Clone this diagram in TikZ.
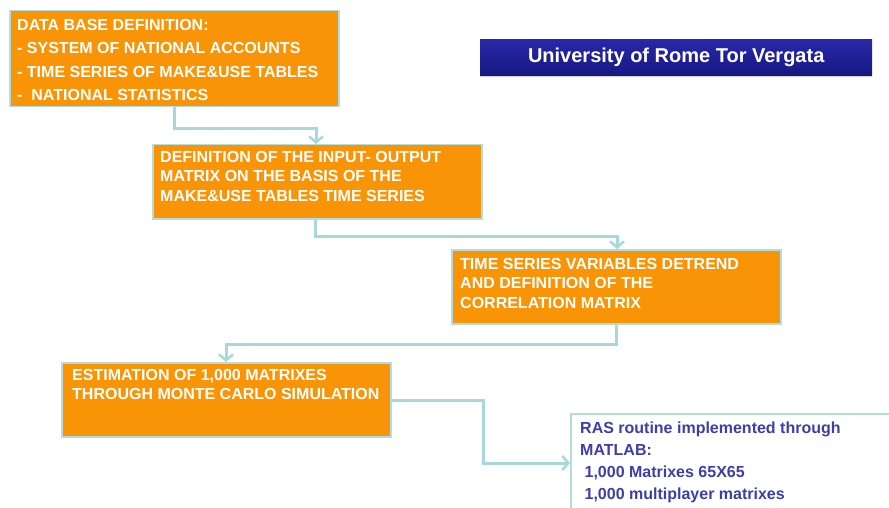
\documentclass[tikz,border=0pt]{standalone}
\usepackage{fontspec}
\setmainfont{Liberation Sans}
\usetikzlibrary{arrows.meta,calc,shadows}
\definecolor{boxorange}{RGB}{248,148,6}
\definecolor{boxedge}{RGB}{178,222,226}
\definecolor{conncol}{RGB}{168,216,220}
\definecolor{rasblue}{RGB}{62,62,168}
\definecolor{titletop}{RGB}{40,40,170}
\definecolor{titlebot}{RGB}{24,24,130}
\tikzset{
  obox/.style={draw=boxedge, line width=1.5pt, fill=boxorange, rectangle, inner sep=0pt, anchor=north west},
  wbox/.style={draw=boxedge, line width=1.5pt, fill=white, rectangle, inner sep=0pt, anchor=north west},
  otext/.style={text=white, font=\bfseries\fontsize{16pt}{19.5pt}\selectfont, align=left, inner sep=0pt, anchor=north west},
  rtext/.style={text=rasblue, font=\bfseries\fontsize{16pt}{22pt}\selectfont, align=left, inner sep=0pt, anchor=north west},
  conn/.style={draw=conncol, line width=3pt, -{Straight Barb[length=6pt,width=14pt,line width=2.5pt]}},
}
\begin{document}
\begin{tikzpicture}[x=1pt,y=1pt]
\useasboundingbox (0,0) rectangle (889,-508);
\clip (0,0) rectangle (889,-508);
% title
\node[anchor=north west, minimum width=392pt, minimum height=36pt, inner sep=0pt,
  top color=titletop, bottom color=titlebot, draw=none,
  drop shadow={shadow xshift=0pt, shadow yshift=-2pt, opacity=0.35}] (title) at (480,-39) {};
\node[text=white, font=\bfseries\fontsize{20pt}{22pt}\selectfont, inner sep=0pt] (titletxt) at (title.center) {University of Rome Tor Vergata};
% boxes
\node[obox, minimum width=329pt, minimum height=96pt] (b1) at (9,-10) {};
\node[obox, minimum width=329pt, minimum height=74pt] (b2) at (152,-144) {};
\node[obox, minimum width=329pt, minimum height=74pt] (b3) at (451,-249) {};
\node[obox, minimum width=329pt, minimum height=74pt] (b4) at (61,-362) {};
\node[wbox, minimum width=330pt, minimum height=110pt] (b5) at (570,-413) {};
% texts
\node[otext, font=\bfseries\fontsize{16pt}{23.5pt}\selectfont] (t1) at (17,-19) {DATA BASE DEFINITION:\\- SYSTEM OF NATIONAL ACCOUNTS\\- TIME SERIES OF MAKE\&USE TABLES\\-\ \ NATIONAL STATISTICS};
\node[otext] (t2) at (160,-151) {DEFINITION OF THE INPUT- OUTPUT\\MATRIX ON THE BASIS OF THE\\MAKE\&USE TABLES TIME SERIES};
\node[otext] (t3) at (460,-258) {TIME SERIES VARIABLES DETREND\\AND DEFINITION OF THE\\CORRELATION MATRIX};
\node[otext] (t4) at (72,-369) {ESTIMATION OF 1,000 MATRIXES\\THROUGH MONTE CARLO SIMULATION};
\node[rtext] (t5) at (580,-422) {RAS routine implemented through\\MATLAB:\\\ 1,000 Matrixes 65X65\\\ 1,000 multiplayer matrixes};
% connectors
\draw[conn] ([xshift=165pt]b1.south west) -- ++(0,-21pt) -| ([xshift=164pt]b2.north west);
\draw[conn] ([xshift=163pt]b2.south west) -- ++(0,-17pt) -| ([xshift=166pt]b3.north west);
\draw[conn] ([xshift=165pt]b3.south west) -- ++(0,-20pt) -| ([xshift=165pt]b4.north west);
\draw[conn] ([yshift=-38pt]b4.north east) -- ++(92pt,0) |- ([yshift=-50pt]b5.north west);
\end{tikzpicture}
\end{document}
